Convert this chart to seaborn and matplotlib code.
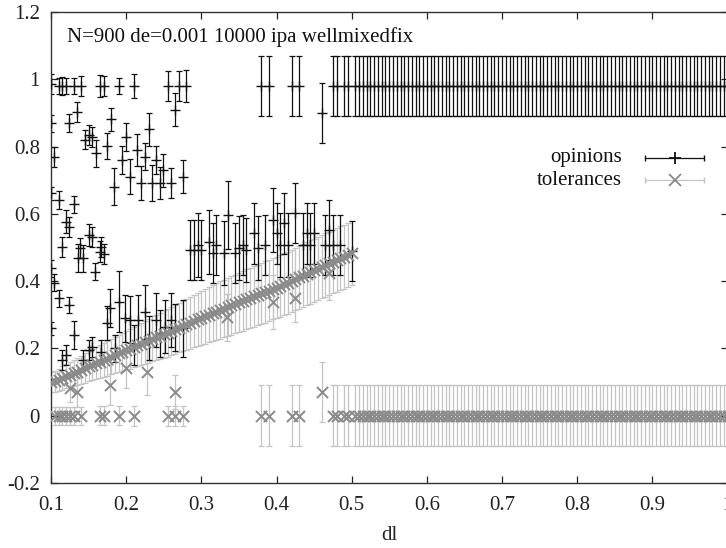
import numpy as np
import pandas as pd
import matplotlib
matplotlib.use("Agg")
import matplotlib.pyplot as plt
import seaborn as sns

# ---------------- data ----------------
# opinions (dl < 0.5): clusters
op_dl = [0.100, 0.110, 0.115, 0.120, 0.130, 0.140, 0.165, 0.170, 0.190, 0.210, 0.255, 0.270, 0.280, 0.265,
         0.380, 0.390, 0.420, 0.430, 0.460, 0.475, 0.480, 0.490, 0.495,
         0.100, 0.124, 0.135, 0.104, 0.180, 0.145, 0.150, 0.155, 0.160, 0.174, 0.200, 0.195, 0.205, 0.215,
         0.225, 0.230, 0.240, 0.249, 0.184, 0.220, 0.235, 0.245, 0.260, 0.275,
         0.100, 0.110, 0.130, 0.120, 0.124, 0.150, 0.154, 0.114, 0.139, 0.167, 0.136, 0.142, 0.165, 0.171,
         0.159, 0.100, 0.104, 0.110, 0.124, 0.100, 0.130, 0.120, 0.114, 0.143, 0.150, 0.154, 0.167, 0.185,
         0.174, 0.178, 0.190, 0.198, 0.205, 0.216, 0.225, 0.240, 0.252, 0.260, 0.276,
         0.210, 0.230, 0.245, 0.265,
         0.285, 0.290, 0.295, 0.300, 0.310, 0.315, 0.320, 0.330, 0.335, 0.345, 0.350, 0.355, 0.360, 0.370,
         0.375, 0.385, 0.395, 0.400, 0.405, 0.410, 0.415, 0.425, 0.435, 0.440, 0.445, 0.450, 0.465, 0.470,
         0.475, 0.485, 0.500]
op_val = [0.985, 0.980, 0.980, 0.980, 0.980, 0.980, 0.980, 0.980, 0.980, 0.980, 0.980, 0.980, 0.980, 0.910,
          0.980, 0.980, 0.980, 0.980, 0.900, 0.980, 0.980, 0.980, 0.980,
          0.869, 0.871, 0.902, 0.770, 0.881, 0.820, 0.834, 0.828, 0.780, 0.802, 0.829, 0.760, 0.711, 0.790,
          0.770, 0.851, 0.760, 0.730, 0.681, 0.691, 0.691, 0.691, 0.691, 0.711,
          0.661, 0.641, 0.629, 0.577, 0.562, 0.537, 0.532, 0.502, 0.499, 0.502, 0.468, 0.468, 0.488, 0.481,
          0.428, 0.438, 0.395, 0.349, 0.329, 0.260, 0.240, 0.180, 0.166, 0.166, 0.195, 0.205, 0.190, 0.200,
          0.276, 0.320, 0.339, 0.290, 0.285, 0.285, 0.309, 0.285, 0.265, 0.285, 0.260,
          0.210, 0.230, 0.245, 0.262,
          0.493, 0.493, 0.507, 0.493, 0.517, 0.483, 0.507, 0.483, 0.597, 0.483, 0.498, 0.507, 0.493, 0.542,
          0.498, 0.507, 0.582, 0.542, 0.507, 0.572, 0.507, 0.602, 0.507, 0.542, 0.507, 0.542, 0.507, 0.552,
          0.507, 0.507, 0.490]
op_err = [0.030, 0.025, 0.028, 0.025, 0.025, 0.030, 0.033, 0.030, 0.025, 0.035, 0.045, 0.045, 0.048, 0.050,
          0.090, 0.090, 0.090, 0.090, 0.090, 0.090, 0.090, 0.090, 0.090,
          0.025, 0.027, 0.029, 0.030, 0.035, 0.028, 0.030, 0.030, 0.040, 0.039, 0.041, 0.041, 0.053, 0.047,
          0.040, 0.049, 0.043, 0.049, 0.056, 0.050, 0.053, 0.048, 0.045, 0.050,
          0.020, 0.027, 0.025, 0.033, 0.030, 0.033, 0.030, 0.030, 0.030, 0.030, 0.042, 0.040, 0.030, 0.030,
          0.026, 0.025, 0.025, 0.025, 0.025, 0.020, 0.043, 0.030, 0.030, 0.030, 0.030, 0.030, 0.035, 0.040,
          0.050, 0.057, 0.090, 0.070, 0.070, 0.075, 0.080, 0.080, 0.080, 0.080, 0.085,
          0.060, 0.065, 0.070, 0.070,
          0.090, 0.090, 0.095, 0.090, 0.095, 0.090, 0.090, 0.095, 0.100, 0.090, 0.095, 0.090, 0.095, 0.090,
          0.095, 0.090, 0.095, 0.090, 0.095, 0.090, 0.095, 0.090, 0.095, 0.090, 0.095, 0.090, 0.090, 0.090,
          0.090, 0.090, 0.090]

# plateau region (dl >= 0.505): one opinion cluster, zero tolerance
plateau_dl = [0.505, 0.510, 0.515, 0.520, 0.525, 0.530, 0.535, 0.540, 0.545, 0.550,
              0.555, 0.560, 0.565, 0.570, 0.575, 0.580, 0.585, 0.590, 0.595, 0.600,
              0.605, 0.610, 0.615, 0.620, 0.625, 0.630, 0.635, 0.640, 0.645, 0.650,
              0.655, 0.660, 0.665, 0.670, 0.675, 0.680, 0.685, 0.690, 0.695, 0.700,
              0.705, 0.710, 0.715, 0.720, 0.725, 0.730, 0.735, 0.740, 0.745, 0.750,
              0.755, 0.760, 0.765, 0.770, 0.775, 0.780, 0.785, 0.790, 0.795, 0.800,
              0.805, 0.810, 0.815, 0.820, 0.825, 0.830, 0.835, 0.840, 0.845, 0.850,
              0.855, 0.860, 0.865, 0.870, 0.875, 0.880, 0.885, 0.890, 0.895, 0.900,
              0.905, 0.910, 0.915, 0.920, 0.925, 0.930, 0.935, 0.940, 0.945, 0.950,
              0.955, 0.960, 0.965, 0.970, 0.975, 0.980, 0.985, 0.990, 0.995, 1.000]
plateau_op = 0.98
plateau_op_err = 0.09
plateau_tol = 0.0
plateau_tol_err = 0.09

# tolerances: main band
band_dl = [0.100, 0.105, 0.110, 0.115, 0.120, 0.125, 0.130, 0.135, 0.140, 0.145,
           0.150, 0.155, 0.160, 0.165, 0.170, 0.175, 0.180, 0.185, 0.190, 0.195,
           0.200, 0.205, 0.210, 0.215, 0.220, 0.225, 0.230, 0.235, 0.240, 0.245,
           0.250, 0.255, 0.260, 0.265, 0.270, 0.275, 0.280, 0.285, 0.290, 0.295,
           0.300, 0.305, 0.310, 0.315, 0.320, 0.325, 0.330, 0.335, 0.340, 0.345,
           0.350, 0.355, 0.360, 0.365, 0.370, 0.375, 0.380, 0.385, 0.390, 0.395,
           0.400, 0.405, 0.410, 0.415, 0.420, 0.425, 0.430, 0.435, 0.440, 0.445,
           0.450, 0.455, 0.460, 0.465, 0.470, 0.475, 0.480, 0.485, 0.490, 0.495, 0.500]
band_val = [0.100, 0.102, 0.106, 0.112, 0.117, 0.121, 0.127, 0.131, 0.136, 0.141,
            0.147, 0.151, 0.156, 0.160, 0.166, 0.170, 0.176, 0.180, 0.185, 0.190,
            0.194, 0.199, 0.205, 0.209, 0.214, 0.219, 0.223, 0.229, 0.233, 0.238,
            0.243, 0.247, 0.252, 0.257, 0.262, 0.266, 0.272, 0.276, 0.281, 0.286,
            0.291, 0.295, 0.300, 0.305, 0.309, 0.314, 0.318, 0.323, 0.328, 0.332,
            0.337, 0.341, 0.346, 0.350, 0.355, 0.359, 0.364, 0.368, 0.372, 0.377,
            0.381, 0.386, 0.391, 0.395, 0.401, 0.406, 0.411, 0.416, 0.422, 0.427,
            0.432, 0.437, 0.443, 0.448, 0.453, 0.458, 0.463, 0.469, 0.473, 0.478, 0.483]
band_err = [0.030, 0.032, 0.034, 0.035, 0.036, 0.038, 0.040, 0.041, 0.042, 0.044,
            0.045, 0.046, 0.048, 0.049, 0.050, 0.051, 0.052, 0.054, 0.055, 0.056,
            0.058, 0.059, 0.060, 0.061, 0.062, 0.064, 0.065, 0.066, 0.067, 0.068,
            0.070, 0.071, 0.072, 0.073, 0.074, 0.075, 0.076, 0.077, 0.078, 0.079,
            0.080, 0.081, 0.082, 0.083, 0.084, 0.085, 0.085, 0.086, 0.087, 0.087,
            0.088, 0.088, 0.089, 0.089, 0.090, 0.090, 0.090, 0.091, 0.091, 0.091,
            0.092, 0.092, 0.092, 0.092, 0.093, 0.093, 0.093, 0.093, 0.093, 0.094,
            0.094, 0.094, 0.094, 0.094, 0.094, 0.094, 0.094, 0.095, 0.095, 0.095, 0.095]

# tolerances: other points (zero row, outliers)
tol_dl = [0.105, 0.110, 0.115, 0.120, 0.125, 0.130, 0.140, 0.165, 0.170, 0.190, 0.210, 0.255, 0.265, 0.275,
          0.380, 0.390, 0.420, 0.430, 0.475, 0.480, 0.490, 0.495,
          0.460,
          0.125, 0.134, 0.178, 0.200, 0.228, 0.265, 0.334, 0.396, 0.424, 0.470]
tol_val = [0.0, 0.0, 0.0, 0.0, 0.0, 0.0, 0.0, 0.0, 0.0, 0.0, 0.0, 0.0, 0.0, 0.0,
           0.0, 0.0, 0.0, 0.0, 0.0, 0.0, 0.0, 0.0,
           0.070,
           0.082, 0.071, 0.091, 0.141, 0.131, 0.071, 0.292, 0.339, 0.350, 0.423]
tol_err = [0.027, 0.027, 0.027, 0.027, 0.027, 0.027, 0.027, 0.028, 0.028, 0.028, 0.030, 0.030, 0.030, 0.030,
           0.090, 0.090, 0.090, 0.090, 0.090, 0.090, 0.090, 0.090,
           0.090,
           0.040, 0.045, 0.060, 0.060, 0.070, 0.050, 0.070, 0.080, 0.070, 0.080]

title_text = "N=900 de=0.001 10000 ipa wellmixedfix"
xticks = [0.1, 0.2, 0.3, 0.4, 0.5, 0.6, 0.7, 0.8, 0.9, 1.0]
xticklabels = ["0.1", "0.2", "0.3", "0.4", "0.5", "0.6", "0.7", "0.8", "0.9", "1"]
yticks = [-0.2, 0.0, 0.2, 0.4, 0.6, 0.8, 1.0, 1.2]
yticklabels = ["-0.2", "0", "0.2", "0.4", "0.6", "0.8", "1", "1.2"]

# ---------------- tables ----------------
n_pl = len(plateau_dl)
opinions = pd.DataFrame({
    "dl": op_dl + plateau_dl,
    "value": op_val + [plateau_op] * n_pl,
    "err": op_err + [plateau_op_err] * n_pl,
})
tolerances = pd.DataFrame({
    "dl": band_dl + tol_dl + plateau_dl,
    "value": band_val + tol_val + [plateau_tol] * n_pl,
    "err": band_err + tol_err + [plateau_tol_err] * n_pl,
})

# ---------------- style ----------------
sns.set_style("ticks")
plt.rcParams["font.family"] = ["Liberation Serif", "DejaVu Serif"]
plt.rcParams["font.size"] = 15

OP_COLOR = "#111111"
TOL_MARK = "#8a8a8a"
TOL_BAR = "#c4c4c4"

fig = plt.figure(figsize=(7.26, 5.48), dpi=100)
ax = fig.add_axes([51 / 726, 65 / 548, 676.5 / 726, 471 / 548])

# tolerance bars underneath
ax.errorbar(tolerances["dl"], tolerances["value"], yerr=tolerances["err"], fmt="none",
            ecolor=TOL_BAR, elinewidth=0.9, capsize=2.0, capthick=0.9, zorder=1)
# opinions
ax.errorbar(opinions["dl"], opinions["value"], yerr=opinions["err"], fmt="none",
            ecolor=OP_COLOR, elinewidth=0.9, capsize=2.0, capthick=0.9, zorder=2)
sns.scatterplot(data=opinions, x="dl", y="value", marker="+", s=55, color=OP_COLOR,
                linewidth=1.0, ax=ax, zorder=3, legend=False)
# tolerance markers on top
sns.scatterplot(data=tolerances, x="dl", y="value", marker="x", s=64, color=TOL_MARK,
                linewidth=1.4, ax=ax, zorder=5, legend=False)

ax.set_xlim(0.1, 1.0)
ax.set_ylim(-0.2, 1.2)
ax.set_xticks(xticks)
ax.set_xticklabels(xticklabels)
ax.set_yticks(yticks)
ax.set_yticklabels(yticklabels)
ax.tick_params(direction="in", length=5, width=0.9, top=True, right=True,
               labelsize=15, colors="#222222")
ax.tick_params(axis="x", pad=9)
ax.tick_params(axis="y", pad=8)
for sp in ax.spines.values():
    sp.set_visible(True)
    sp.set_linewidth(1.0)
    sp.set_color("#333333")

ax.set_xlabel("dl", fontsize=15, labelpad=8)
ax.set_ylabel("")

ax.text(0.0237, 0.947, title_text, transform=ax.transAxes, ha="left", va="center",
        fontsize=15, color="#111111")

# legend (gnuplot style)
leg_rows = [("opinions", 0.6907, OP_COLOR, OP_COLOR, "+"),
            ("tolerances", 0.6433, TOL_BAR, TOL_MARK, "x")]
for label, yy, lc, mc, mk in leg_rows:
    ax.text(0.8436, yy, label, transform=ax.transAxes, ha="right", va="center",
            fontsize=15, color="#111111")
    ax.plot([0.878, 0.9653], [yy, yy], transform=ax.transAxes, color=lc, lw=0.9,
            clip_on=False, zorder=6)
    ax.plot([0.878, 0.9653], [yy, yy], transform=ax.transAxes, color=lc, lw=0,
            marker="|", markersize=5, clip_on=False, zorder=6)
    ax.plot([0.9224], [yy], transform=ax.transAxes, color=mc, lw=0, marker=mk,
            markersize=8, markeredgewidth=1.3, clip_on=False, zorder=7)

fig.savefig("out.png", dpi=100)
